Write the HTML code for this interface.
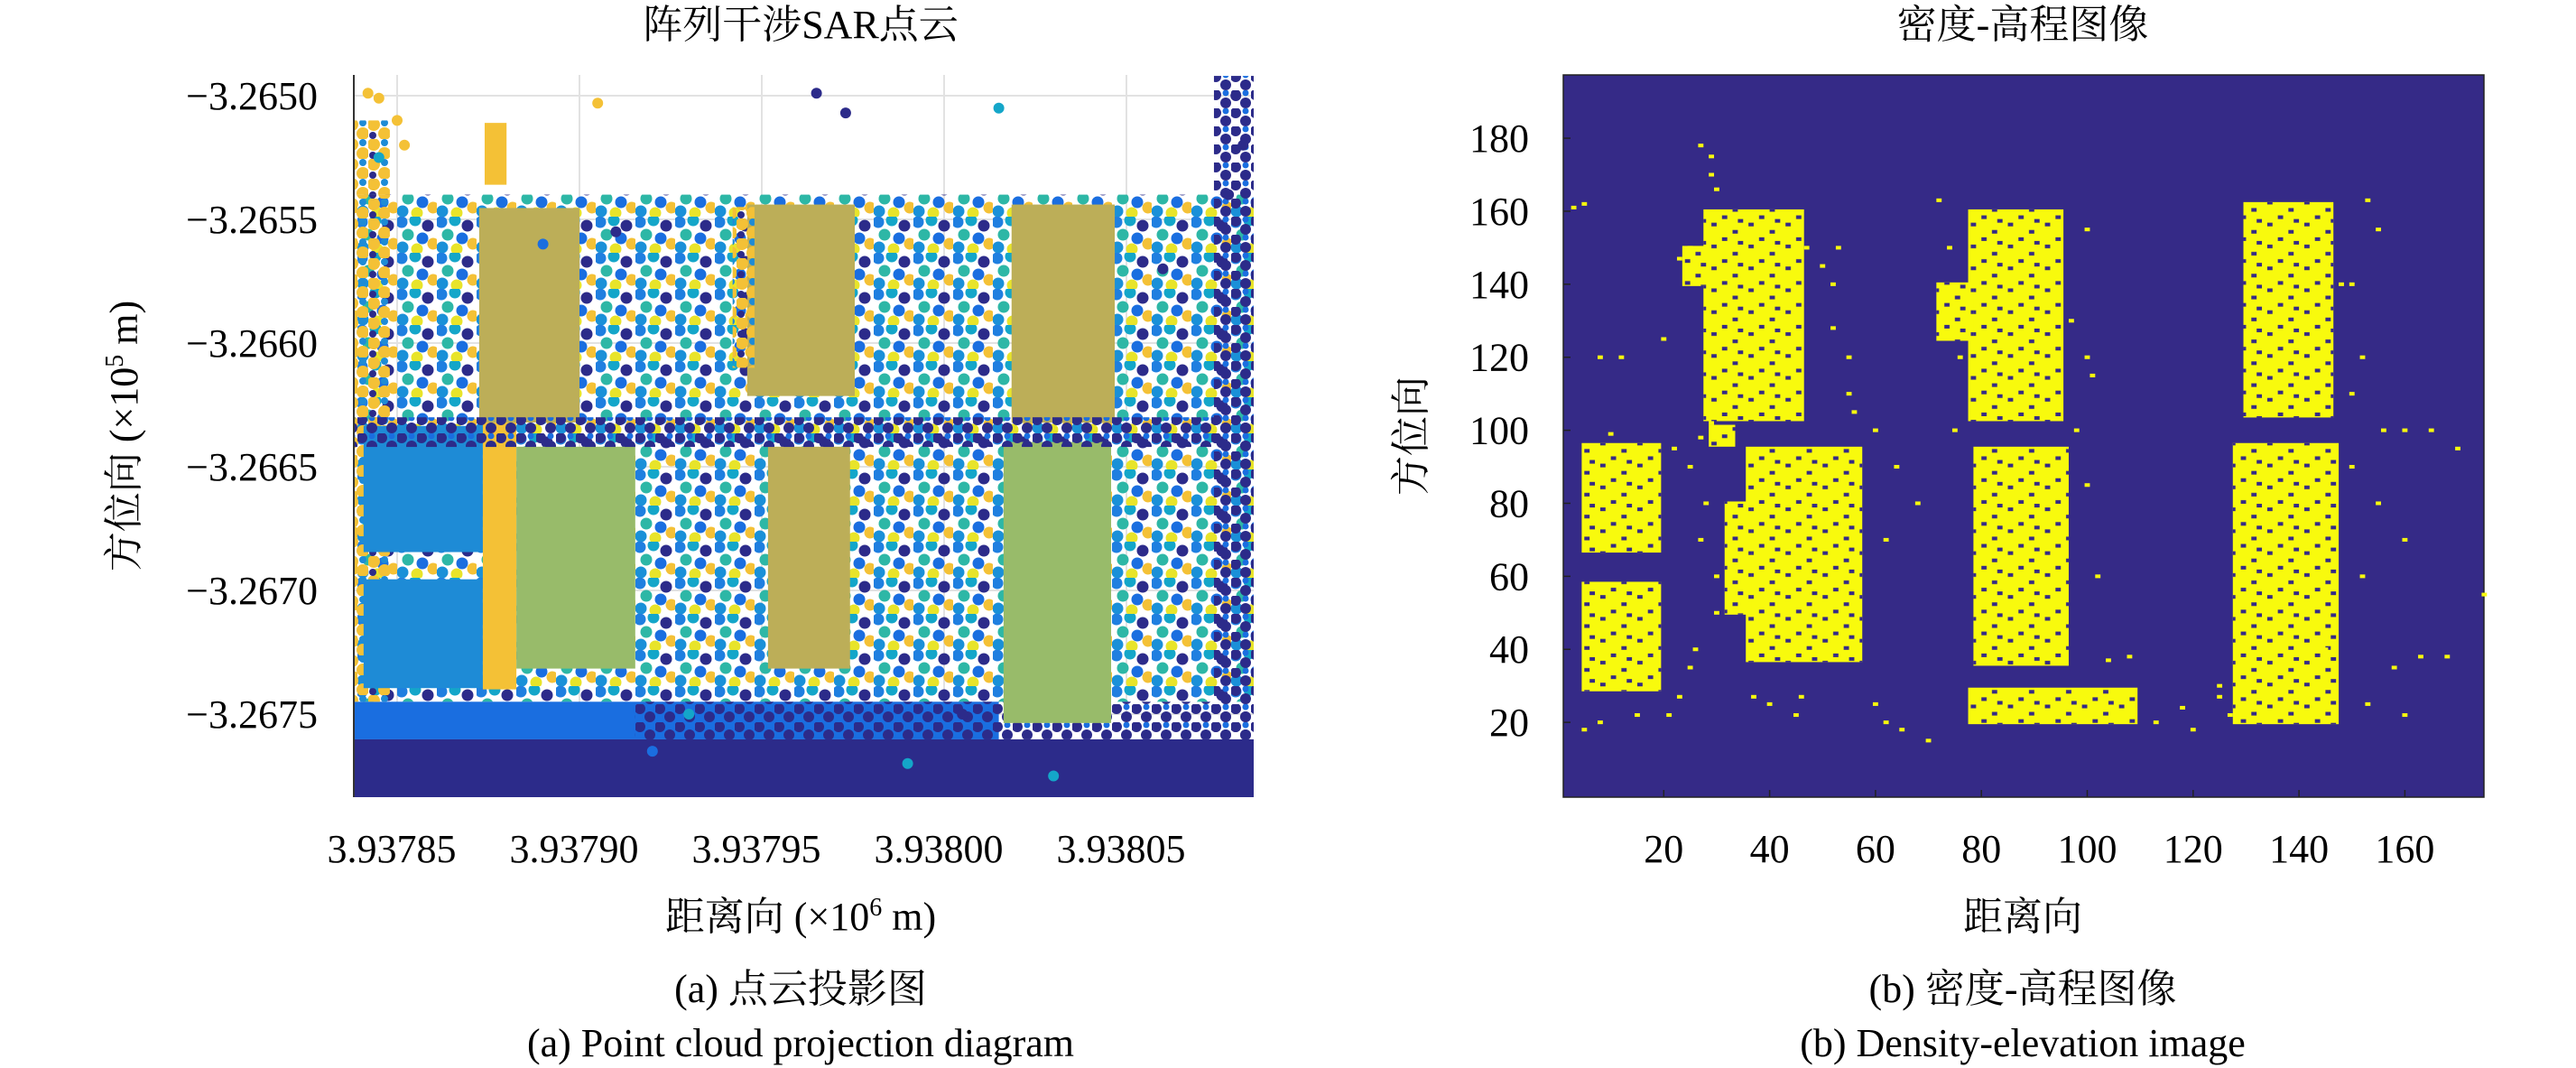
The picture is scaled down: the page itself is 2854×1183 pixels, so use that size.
<!DOCTYPE html>
<html><head><meta charset="utf-8">
<style>
html,body{margin:0;padding:0;background:#fff;}
svg{display:block;}
text{font-family:"Liberation Serif","Noto Serif CJK SC",serif;fill:#000;}
</style></head>
<body>
<svg id="fig" width="2854" height="1183" viewBox="0 0 2854 1183" xmlns="http://www.w3.org/2000/svg">
<defs>
<pattern id="mix" width="44" height="40" patternUnits="userSpaceOnUse">
<circle cx="5" cy="6" r="6.5" fill="#1f7fe0"/><circle cx="20" cy="4" r="6.5" fill="#14a6c9"/>
<circle cx="34" cy="10" r="6.5" fill="#2c2b8a"/><circle cx="12" cy="20" r="6.5" fill="#2db7a6"/>
<circle cx="28" cy="24" r="6.5" fill="#1a6ee0"/><circle cx="40" cy="30" r="6.5" fill="#f4c136"/>
<circle cx="6" cy="34" r="6.5" fill="#1a90d8"/><circle cx="22" cy="36" r="6.5" fill="#e8e42a"/>
</pattern>
<pattern id="navyDots" width="22" height="20" patternUnits="userSpaceOnUse">
<circle cx="5" cy="5" r="6" fill="#2c2b8a"/><circle cx="16" cy="14" r="6" fill="#2c2b8a"/><circle cx="16" cy="3" r="3.5" fill="#1a6ee0"/>
</pattern>
<pattern id="orangeDots" width="24" height="22" patternUnits="userSpaceOnUse">
<circle cx="6" cy="6" r="7" fill="#f4c136"/><circle cx="18" cy="16" r="7" fill="#f4c136"/><circle cx="18" cy="4" r="4" fill="#1e8bd6"/><circle cx="5" cy="18" r="4" fill="#2c2b8a"/>
</pattern>
<pattern id="holes" x="1726" y="0" width="41.055" height="24.264" patternUnits="userSpaceOnUse">
<rect x="5.865" y="4.044" width="5.865" height="4.044" fill="#352a87"/>
<rect x="29.3" y="12.1" width="5.865" height="4.044" fill="#352a87"/>
<rect x="17.6" y="20.2" width="5.865" height="4.044" fill="#352a87"/>
<rect x="35.2" y="0" width="5.865" height="4.044" fill="#352a87"/>
</pattern>
</defs>
<g id="left"></g>
<g id="right"></g>
</svg>
<script>
// ---------- Left chart data (point cloud projection) ----------
const lxTicks = [3.93785, 3.93790, 3.93795, 3.93800, 3.93805];
const lxTickLabels = ["3.93785","3.93790","3.93795","3.93800","3.93805"];
const lyTicks = [-3.2650, -3.2655, -3.2660, -3.2665, -3.2670, -3.2675];
const lyTickLabels = ["\u22123.2650","\u22123.2655","\u22123.2660","\u22123.2665","\u22123.2670","\u22123.2675"];
const palette = ["#2c2b8a","#1a6ee0","#1e8bd6","#14a6c9","#2db7a6","#98bb6a","#bcae58","#f4c136","#e8e42a","url(#mix)","url(#navyDots)","url(#orangeDots)"];
// regions: [x0, x1, yTop, yBottom, colorIndex]
const regionX0 = [3.9378381,3.9378381,3.9379153,3.9378381,3.9380740,3.9378381,3.9378381,3.9378408,3.9378408,3.9378735,3.9378725,3.9379460,3.9380185,3.9378827,3.9379517,3.9380163,3.9378381,3.9378740,3.9379420];
const regionX1 = [3.9380849,3.9380150,3.9380849,3.9378480,3.9380849,3.9380849,3.9378480,3.9378735,3.9378735,3.9378827,3.9379000,3.9379755,3.9380468,3.9379153,3.9379742,3.9380458,3.9380849,3.9378800,3.9379480];
const regionY0 = [-3.265400,-3.267450,-3.267450,-3.265400,-3.264920,-3.267602,-3.265100,-3.266335,-3.266955,-3.266320,-3.265454,-3.265440,-3.265440,-3.266419,-3.266419,-3.266400,-3.266300,-3.265110,-3.265450];
const regionY1 = [-3.267450,-3.267602,-3.267602,-3.267450,-3.267602,-3.267840,-3.265400,-3.266845,-3.267395,-3.267400,-3.266321,-3.266214,-3.266322,-3.267316,-3.267316,-3.267536,-3.266420,-3.265360,-3.266100];
const regionC  = [9,1,10,11,10,0,11,2,2,7,6,6,6,5,6,5,10,7,11];
// scattered individual points [x, y, colorIndex]
const dotX = [3.9378420,3.9378450,3.9378500,3.9378520,3.9378450,3.9379050,3.9379650,3.9379730,3.9380150,3.9380800,3.9380820,3.9380780,3.9380600,3.9379300,3.9379900,3.9380300,3.9379200,3.9380050,3.9379100,3.9378900];
const dotY = [-3.264990,-3.265010,-3.265100,-3.265200,-3.265250,-3.265030,-3.264990,-3.265070,-3.265050,-3.265000,-3.265200,-3.265400,-3.265700,-3.267500,-3.267700,-3.267750,-3.267650,-3.267500,-3.265550,-3.265600];
const dotC = [7,7,7,7,3,7,0,0,3,0,0,0,0,3,3,3,1,0,0,1];

// ---------- Right chart data (density-elevation image) ----------
const rxTicks = [20,40,60,80,100,120,140,160];
const ryTicks = [20,40,60,80,100,120,140,160,180];
const blkX0 = [28,24,36,5,5,78,72,79,78,130,128,32,29];
const blkX1 = [46,28,57,19,19,95,78,96,109,146,147,36,33];
const blkY0 = [103,140,37,67,29,103,125,36,20,104,20,50,96];
const blkY1 = [160,150,95,96,58,160,140,95,29,162,96,80,101];
const cellX = [3,5,27,29,29,30,23,25,47,50,52,52,55,55,56,20,8,12,10,22,25,27,29,28,27,30,30,26,25,23,21,15,8,5,37,40,45,46,60,62,65,70,60,72,74,75,76,75,97,100,101,100,96,100,104,108,113,118,120,125,127,153,155,150,152,156,160,165,150,155,160,152,163,158,168,153,160,175,170,145,125,85,68,64,62,49,51,53,98,102,148,150];
const cellY = [161,162,178,175,170,166,147,150,150,145,140,128,120,110,105,125,120,120,99,95,90,98,102,80,70,60,50,40,35,27,22,22,20,18,27,25,22,27,25,20,18,15,100,163,150,135,120,100,130,120,115,155,90,85,37,38,20,24,18,27,22,163,155,140,120,100,100,100,90,80,70,60,38,35,38,25,22,55,95,40,30,40,80,90,70,60,70,150,100,60,140,110];

const NS = "http://www.w3.org/2000/svg";
function mk(tag, attrs, parent){ const e=document.createElementNS(NS,tag); for(const k in attrs) e.setAttribute(k,attrs[k]); parent.appendChild(e); return e; }

const L = {l:392, r:1389, t:83, b:883};
function xL(v){ return 440 + (v-3.93785)/0.0002*808; }
function yL(v){ return 106 + (-3.2650 - v)/0.0005*137; }
const gl = document.getElementById('left');


const clipL = mk('clipPath',{id:'clipL'},document.querySelector('defs'));
mk('rect',{x:L.l,y:L.t,width:L.r-L.l,height:L.b-L.t},clipL);
lxTicks.forEach((v,i)=>{
  const g=mk('line',{x1:xL(v),x2:xL(v),y1:L.t,y2:L.b,stroke:'#e2e2e2','stroke-width':2},gl);
  
  
});
lyTicks.forEach((v,i)=>{
  const g=mk('line',{x1:L.l,x2:L.r,y1:yL(v),y2:yL(v),stroke:'#e2e2e2','stroke-width':2},gl);
  
  
});
const pts = mk('g',{'clip-path':'url(#clipL)'},gl);


regionX0.forEach((x0,i)=>{
  const x=xL(x0), w=xL(regionX1[i])-x, y=yL(regionY0[i]), h=yL(regionY1[i])-y;
  const r=mk('rect',{x:x,y:y,width:w,height:h,fill:palette[regionC[i]]},pts);
  
  
});
dotX.forEach((x,i)=>{
  const c=mk('circle',{cx:xL(x),cy:yL(dotY[i]),r:6,fill:palette[dotC[i]]},pts);
  
  
});
const axL = mk('line',{x1:L.l,x2:L.l,y1:L.t,y2:L.b,stroke:'#333','stroke-width':2},gl);


lyTicks.forEach((v,i)=>{
  const t=mk('text',{x:352,y:yL(v)+15,'text-anchor':'end','font-size':44},gl);
  t.textContent=lyTickLabels[i];
  
  
});
lxTicks.forEach((v,i)=>{
  const t=mk('text',{x:xL(v)-6,y:955,'text-anchor':'middle','font-size':44},gl);
  t.textContent=lxTickLabels[i];
  
  
});

const R = {l:1732, r:2752, t:83, b:883};
const cw=5.865, ch=4.044;
function xR(v){ return 1726 + v*cw; }
function yR(v){ return 881 - v*ch; }
const gr = document.getElementById('right');


const bg = mk('rect',{x:R.l,y:R.t,width:R.r-R.l,height:R.b-R.t,fill:'#352a87',stroke:'#222','stroke-width':1.5},gr);


blkX0.forEach((x0,i)=>{
  const x=xR(x0-0.5), w=(blkX1[i]-x0+1)*cw, y=yR(blkY1[i]+0.5), h=(blkY1[i]-blkY0[i]+1)*ch;
  const r=mk('rect',{x:x,y:y,width:w,height:h,fill:'#f8fa0d'},gr);
  
  
  const o=mk('rect',{x:x,y:y,width:w,height:h,fill:'url(#holes)'},gr);
  
  
});
cellX.forEach((cx,i)=>{
  const r=mk('rect',{x:xR(cx-0.5),y:yR(cellY[i]+0.5),width:cw,height:ch,fill:'#f8fa0d'},gr);
  
  
});
rxTicks.forEach(v=>{
  const k=mk('line',{x1:xR(v),x2:xR(v),y1:R.b,y2:R.b-8,stroke:'#222','stroke-width':1.5},gr);
  
  
  const t=mk('text',{x:xR(v),y:955,'text-anchor':'middle','font-size':44},gr);
  t.textContent=String(v);
  
  
});
ryTicks.forEach(v=>{
  const k=mk('line',{x1:R.l,x2:R.l+8,y1:yR(v),y2:yR(v),stroke:'#222','stroke-width':1.5},gr);
  
  
  const t=mk('text',{x:1694,y:yR(v)+15,'text-anchor':'end','font-size':44},gr);
  t.textContent=String(v);
  
  
});
</script>
<div style="position:absolute;left:0;top:0;width:2854px;height:1183px;pointer-events:none;">
<svg width="2854" height="1183" xmlns="http://www.w3.org/2000/svg" style="position:absolute;left:0;top:0">
<text x="887" y="42" text-anchor="middle" font-size="44">阵列干涉SAR点云</text>
<text x="887" y="1030" text-anchor="middle" font-size="44">距离向 (×10<tspan font-size="28" dy="-16">6</tspan><tspan dy="16"> m)</tspan></text>
<text transform="translate(152,483) rotate(-90)" text-anchor="middle" font-size="44">方位向 (×10<tspan font-size="28" dy="-16">5</tspan><tspan dy="16"> m)</tspan></text>
<text x="887" y="1110" text-anchor="middle" font-size="44">(a) 点云投影图</text>
<text x="887" y="1170" text-anchor="middle" font-size="44">(a) Point cloud projection diagram</text>
<text x="2241" y="42" text-anchor="middle" font-size="44">密度-高程图像</text>
<text x="2241" y="1030" text-anchor="middle" font-size="44">距离向</text>
<text transform="translate(1578,483) rotate(-90)" text-anchor="middle" font-size="44">方位向</text>
<text x="2241" y="1110" text-anchor="middle" font-size="44">(b) 密度-高程图像</text>
<text x="2241" y="1170" text-anchor="middle" font-size="44">(b) Density-elevation image</text>
</svg>
</div>
</body></html>
